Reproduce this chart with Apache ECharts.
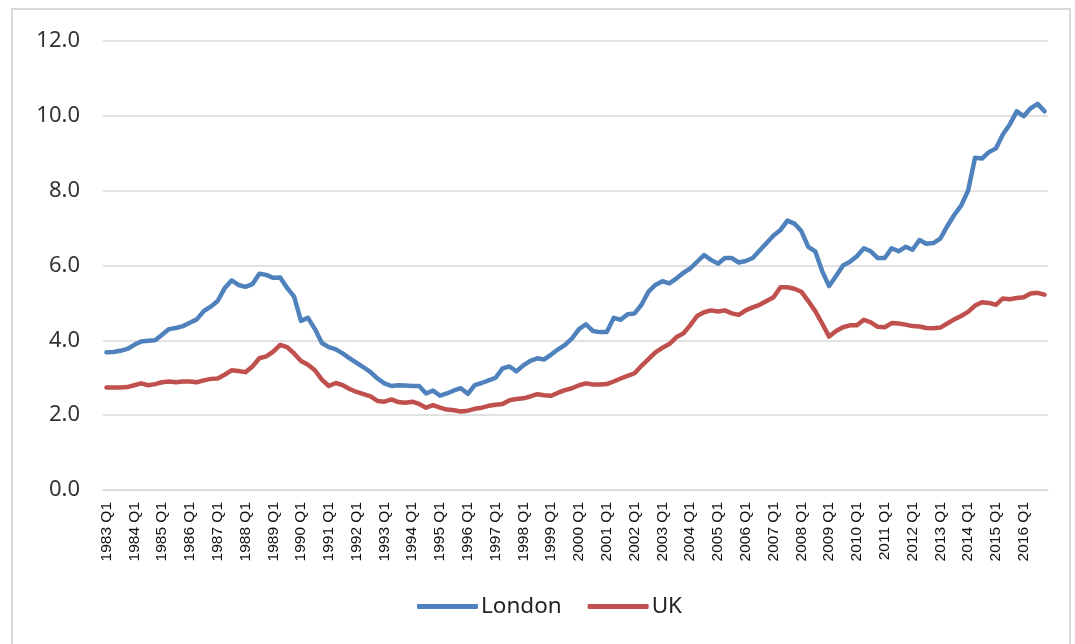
<!DOCTYPE html>
<html>
<head>
<meta charset="utf-8">
<script src="https://cdn.jsdelivr.net/npm/echarts@6/dist/echarts.min.js"></script>
<style>
  html, body { margin: 0; padding: 0; background: #fff; }
  #chart { width: 1075px; height: 644px; }
</style>
</head>
<body>
<div id="chart"></div>
<script>
const years = [1983, 1984, 1985, 1986, 1987, 1988, 1989, 1990, 1991, 1992, 1993, 1994,
  1995, 1996, 1997, 1998, 1999, 2000, 2001, 2002, 2003, 2004, 2005, 2006, 2007, 2008,
  2009, 2010, 2011, 2012, 2013, 2014, 2015, 2016];
const quarters = ['Q1', 'Q2', 'Q3', 'Q4'];
const yTicks = [0, 2, 4, 6, 8, 10, 12];

// one row per year, Q1..Q4
const london = [
  3.68, 3.69, 3.72, 3.77,
  3.88, 3.97, 3.99, 4.0,
  4.15, 4.3, 4.33, 4.38,
  4.47, 4.56, 4.78, 4.9,
  5.05, 5.39, 5.6, 5.48,
  5.43, 5.5, 5.78, 5.75,
  5.67, 5.68, 5.4, 5.17,
  4.52, 4.6, 4.3, 3.93,
  3.82, 3.76, 3.65, 3.52,
  3.4, 3.28, 3.15, 2.98,
  2.85, 2.78, 2.8, 2.79,
  2.78, 2.78, 2.58, 2.66,
  2.52, 2.58, 2.66, 2.72,
  2.57, 2.8, 2.86, 2.93,
  3.0, 3.25, 3.3, 3.17,
  3.33, 3.45, 3.52, 3.49,
  3.62, 3.76, 3.88, 4.05,
  4.3, 4.43, 4.25, 4.22,
  4.22, 4.6, 4.55, 4.7,
  4.72, 4.95, 5.3, 5.48,
  5.58, 5.52, 5.65, 5.8,
  5.92, 6.1, 6.28, 6.15,
  6.05, 6.2, 6.2, 6.08,
  6.12, 6.2, 6.4, 6.6,
  6.8, 6.95, 7.2, 7.12,
  6.92, 6.5, 6.38, 5.85,
  5.45, 5.72, 6.0, 6.1,
  6.25, 6.46, 6.38, 6.2,
  6.2, 6.46, 6.38, 6.5,
  6.42, 6.68, 6.58, 6.6,
  6.72, 7.05, 7.35, 7.6,
  8.0, 8.88, 8.86, 9.03,
  9.13, 9.5, 9.77, 10.12,
  9.99, 10.2, 10.32, 10.12
];

const uk = [
  2.74, 2.74, 2.74, 2.75,
  2.8, 2.85, 2.8, 2.83,
  2.88, 2.9, 2.88, 2.9,
  2.9, 2.88, 2.93, 2.97,
  2.98, 3.08, 3.2, 3.18,
  3.15, 3.3, 3.52, 3.57,
  3.7, 3.88, 3.82, 3.65,
  3.45, 3.35, 3.2, 2.95,
  2.78, 2.86, 2.8, 2.7,
  2.62, 2.56, 2.5, 2.38,
  2.36, 2.42, 2.35, 2.33,
  2.36, 2.3, 2.2, 2.27,
  2.2, 2.15, 2.13, 2.1,
  2.12, 2.17, 2.2, 2.25,
  2.28, 2.3, 2.4, 2.43,
  2.45, 2.5, 2.56, 2.53,
  2.52, 2.6, 2.67, 2.72,
  2.8, 2.85, 2.82, 2.82,
  2.83, 2.9, 2.98, 3.05,
  3.12, 3.32, 3.5, 3.68,
  3.8, 3.9, 4.08, 4.18,
  4.4, 4.65, 4.75, 4.8,
  4.77, 4.8, 4.72, 4.68,
  4.8, 4.88, 4.95, 5.05,
  5.15, 5.42, 5.42, 5.38,
  5.3, 5.05, 4.78, 4.45,
  4.1, 4.25, 4.35, 4.4,
  4.4, 4.55, 4.48, 4.36,
  4.35, 4.46, 4.45, 4.42,
  4.38, 4.37, 4.33, 4.32,
  4.34, 4.45, 4.56, 4.65,
  4.76, 4.93, 5.02, 5.0,
  4.95, 5.12, 5.1, 5.13,
  5.15, 5.25, 5.27, 5.22
];

const categories = years.flatMap(y => quarters.map(q => y + ' ' + q));

const chart = echarts.init(document.getElementById('chart'));
chart.setOption({
  animation: false,
  backgroundColor: '#fff',
  graphic: [{
    type: 'rect',
    shape: { x: 12, y: 9, width: 1058, height: 700 },
    style: { fill: 'none', stroke: '#d9d9d9', lineWidth: 2 },
    silent: true
  }],
  grid: { left: 103, right: 27, top: 41, bottom: 154 },
  legend: {
    bottom: 21,
    left: 412,
    icon: 'roundRect',
    itemWidth: 61,
    itemHeight: 5,
    itemGap: 26,
    textStyle: { fontFamily: 'Noto Sans', fontSize: 22.5, color: '#222', padding: [0, 0, 0, -2] },
    data: ['London', 'UK']
  },
  xAxis: {
    type: 'category',
    data: categories,
    boundaryGap: true,
    axisLine: { lineStyle: { color: '#d9d9d9', width: 1.5 } },
    axisTick: { show: false },
    axisLabel: {
      interval: 3,
      rotate: 90,
      margin: 12,
      color: '#111',
      fontFamily: 'Liberation Sans',
      fontSize: 15.5
    },
    splitLine: { show: false }
  },
  yAxis: {
    type: 'value',
    min: yTicks[0],
    max: yTicks[yTicks.length - 1],
    interval: 2,
    axisLine: { show: false },
    axisTick: { show: false },
    axisLabel: {
      margin: 23,
      color: '#333',
      fontFamily: 'Noto Sans',
      fontSize: 22,
      formatter: v => v.toFixed(1)
    },
    splitLine: { lineStyle: { color: '#d9d9d9', width: 1.5 } }
  },
  series: [
    {
      name: 'London',
      type: 'line',
      data: london,
      showSymbol: false,
      lineStyle: { color: '#4F81BD', width: 4.5, cap: 'round', join: 'round' },
      itemStyle: { color: '#4F81BD' }
    },
    {
      name: 'UK',
      type: 'line',
      data: uk,
      showSymbol: false,
      lineStyle: { color: '#C0504D', width: 4.5, cap: 'round', join: 'round' },
      itemStyle: { color: '#C0504D' }
    }
  ]
});
</script>
</body>
</html>
